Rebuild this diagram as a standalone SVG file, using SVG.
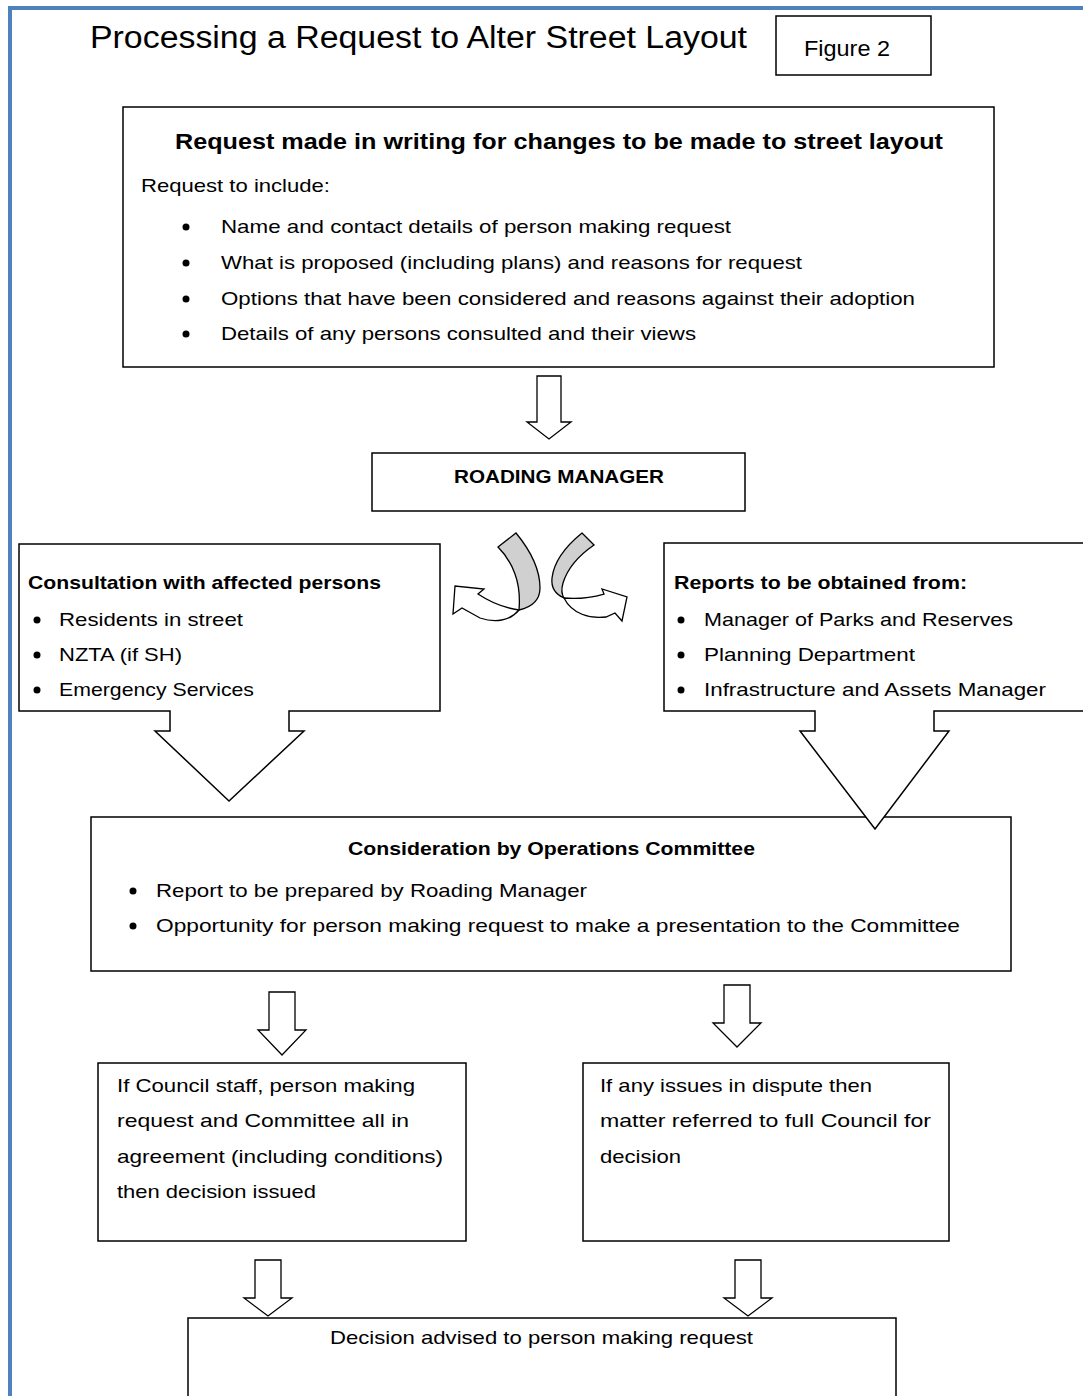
<svg xmlns="http://www.w3.org/2000/svg" width="1083" height="1396" viewBox="0 0 1083 1396">
<style>
text{font-family:"Liberation Sans",Arial,sans-serif;fill:#000;font-size:19px}
.b{font-weight:bold}
.box{fill:#fff;stroke:#000;stroke-width:1.5}
.arr{fill:#fff;stroke:#000;stroke-width:1.3;stroke-linejoin:miter}
.dot{fill:#000}
.frame{stroke:#4f81bd;stroke-width:4;fill:none}
.rib{fill:#d0d0d0;stroke:#000;stroke-width:1.3}
.rw{fill:#fff;stroke:#000;stroke-width:1.3}
</style>
<rect width="1083" height="1396" fill="#fff"/>
<g id="frame">
<line class="frame" x1="10" y1="8" x2="1083" y2="8"/>
<line class="frame" x1="10" y1="6" x2="10" y2="1396"/>
</g>
<g id="title">
<text x="90" y="48" style="font-size:31px" textLength="657" lengthAdjust="spacingAndGlyphs">Processing a Request to Alter Street Layout</text>
</g>
<g id="figure-label">
<rect class="box" x="776" y="16" width="155" height="59"/>
<text x="804" y="56" style="font-size:22px" textLength="86" lengthAdjust="spacingAndGlyphs">Figure 2</text>
</g>
<g id="request">
<rect class="box" x="123" y="107" width="871" height="260"/>
<text class="b" x="175" y="149" style="font-size:22px" textLength="768" lengthAdjust="spacingAndGlyphs">Request made in writing for changes to be made to street layout</text>
<text x="141" y="192" textLength="189" lengthAdjust="spacingAndGlyphs">Request to include:</text>
<circle class="dot" cx="186" cy="227" r="3.5"/>
<circle class="dot" cx="186" cy="263" r="3.5"/>
<circle class="dot" cx="186" cy="299" r="3.5"/>
<circle class="dot" cx="186" cy="334" r="3.5"/>
<text x="221" y="233" textLength="510" lengthAdjust="spacingAndGlyphs">Name and contact details of person making request</text>
<text x="221" y="269" textLength="581" lengthAdjust="spacingAndGlyphs">What is proposed (including plans) and reasons for request</text>
<text x="221" y="305" textLength="694" lengthAdjust="spacingAndGlyphs">Options that have been considered and reasons against their adoption</text>
<text x="221" y="340" textLength="475" lengthAdjust="spacingAndGlyphs">Details of any persons consulted and their views</text>
</g>
<g id="roading-manager">
<rect class="box" x="372" y="453" width="373" height="58"/>
<text class="b" x="454" y="483" textLength="210" lengthAdjust="spacingAndGlyphs">ROADING MANAGER</text>
</g>
<g id="consultation">
<path class="box" d="M170 711 H19 V544 H440 V711 H289 V731 H304 L229 801 L155 731 H170 Z"/>
<text class="b" x="28" y="589" textLength="353" lengthAdjust="spacingAndGlyphs">Consultation with affected persons</text>
<circle class="dot" cx="37" cy="620" r="3.5"/>
<circle class="dot" cx="37" cy="655" r="3.5"/>
<circle class="dot" cx="37" cy="690" r="3.5"/>
<text x="59" y="626" textLength="184" lengthAdjust="spacingAndGlyphs">Residents in street</text>
<text x="59" y="661" textLength="123" lengthAdjust="spacingAndGlyphs">NZTA (if SH)</text>
<text x="59" y="696" textLength="195" lengthAdjust="spacingAndGlyphs">Emergency Services</text>
</g>
<g id="operations">
<rect class="box" x="91" y="817" width="920" height="154"/>
<text class="b" x="348" y="855" textLength="407" lengthAdjust="spacingAndGlyphs">Consideration by Operations Committee</text>
<circle class="dot" cx="133" cy="891" r="3.5"/>
<circle class="dot" cx="133" cy="926" r="3.5"/>
<text x="156" y="897" textLength="431" lengthAdjust="spacingAndGlyphs">Report to be prepared by Roading Manager</text>
<text x="156" y="932" textLength="804" lengthAdjust="spacingAndGlyphs">Opportunity for person making request to make a presentation to the Committee</text>
</g>
<g id="reports">
<path d="M815 711 H664 V543 H1090 V711 H934 V731 H949 L875 829 L800 731 H815 Z" fill="#fff" stroke="none"/>
<path d="M1090 711 H934 V731 H949 L875 829 L800 731 H815 V711 H664 V543 H1090" fill="none" stroke="#000" stroke-width="1.5"/>
<text class="b" x="674" y="589" textLength="293" lengthAdjust="spacingAndGlyphs">Reports to be obtained from:</text>
<circle class="dot" cx="681" cy="620" r="3.5"/>
<circle class="dot" cx="681" cy="655" r="3.5"/>
<circle class="dot" cx="681" cy="690" r="3.5"/>
<text x="704" y="626" textLength="309" lengthAdjust="spacingAndGlyphs">Manager of Parks and Reserves</text>
<text x="704" y="661" textLength="211" lengthAdjust="spacingAndGlyphs">Planning Department</text>
<text x="704" y="696" textLength="342" lengthAdjust="spacingAndGlyphs">Infrastructure and Assets Manager</text>
</g>
<g id="agreement">
<rect class="box" x="98" y="1063" width="368" height="178"/>
<text x="117" y="1092" textLength="298" lengthAdjust="spacingAndGlyphs">If Council staff, person making</text>
<text x="117" y="1127" textLength="292" lengthAdjust="spacingAndGlyphs">request and Committee all in</text>
<text x="117" y="1163" textLength="326" lengthAdjust="spacingAndGlyphs">agreement (including conditions)</text>
<text x="117" y="1198" textLength="199" lengthAdjust="spacingAndGlyphs">then decision issued</text>
</g>
<g id="dispute">
<rect class="box" x="583" y="1063" width="366" height="178"/>
<text x="600" y="1092" textLength="272" lengthAdjust="spacingAndGlyphs">If any issues in dispute then</text>
<text x="600" y="1127" textLength="331" lengthAdjust="spacingAndGlyphs">matter referred to full Council for</text>
<text x="600" y="1163" textLength="81" lengthAdjust="spacingAndGlyphs">decision</text>
</g>
<g id="decision">
<path class="box" d="M188 1400 V1318 H896 V1400"/>
<text x="330" y="1344" textLength="423" lengthAdjust="spacingAndGlyphs">Decision advised to person making request</text>
</g>
<g id="connectors">
<path class="arr" d="M537 376 H561 V422 H571 L549 439 L527 422 H537 Z"/>
<path class="arr" d="M269 992 H295 V1030 H306 L282 1055 L258 1030 H269 Z"/>
<path class="arr" d="M724 985 H750 V1023 H761 L737 1047 L713 1023 H724 Z"/>
<path class="arr" d="M255 1260 H281 V1298 H292 L268 1316 L244 1298 H255 Z"/>
<path class="arr" d="M735 1260 H761 V1298 H772 L748 1316 L724 1298 H735 Z"/>
<g id="curved-left">
<path class="rib" d="M498 547 L516 533 C530 550 540 570 540 588 C540 600 532 607 519 610 C520 598 519 585 515 574 C511 563 505 554 498 547 Z"/>
<path class="rw" d="M519 610 C510 621 495 623 480 618 L462 608 L453 614 L455 586 L484 589 L478 594 C490 602 505 608 519 610 Z"/>
</g>
<g id="curved-right">
<path class="rib" d="M582 533 L594 545 C578 556 567 570 563 583 C561 590 562 595 564 598 C555 594 551 587 552 578 C554 561 566 546 582 533 Z"/>
<path class="rw" d="M564 598 C572 614 590 619 606 617 L615 613 L622 621 L627 597 L602 589 L604 594 C590 598 575 599 564 598 Z"/>
</g>
</g>
</svg>
